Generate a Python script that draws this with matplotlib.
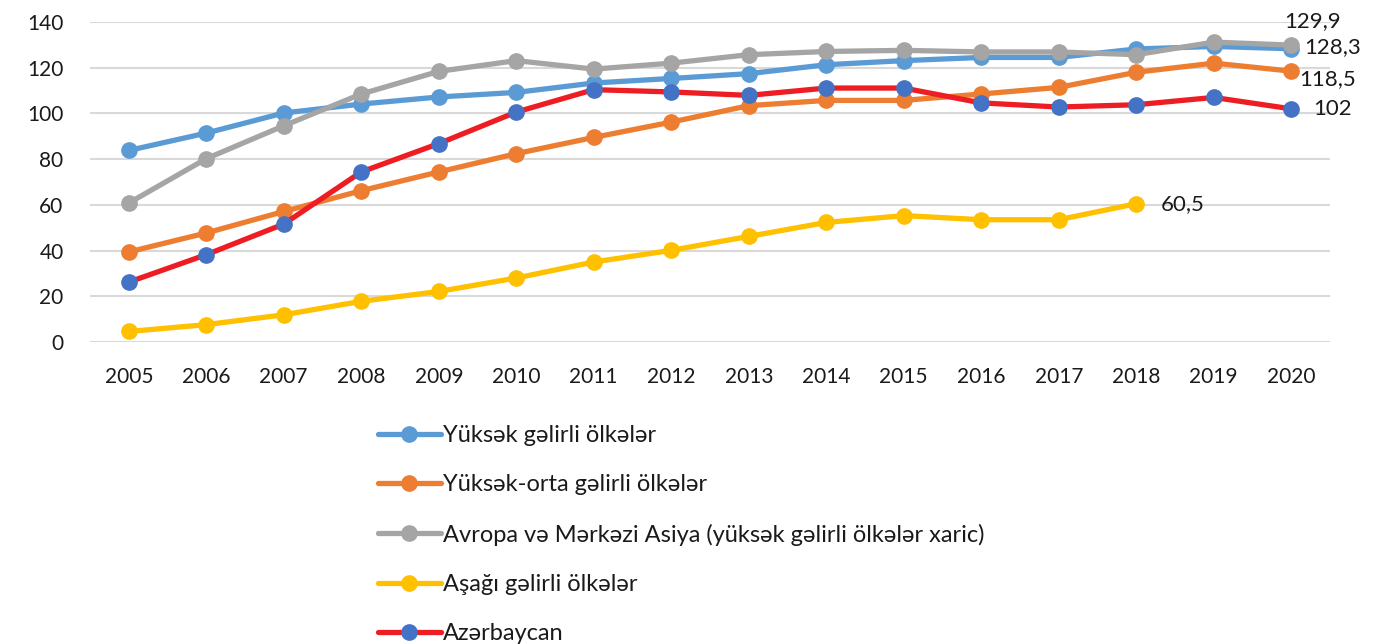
import numpy as np
import matplotlib
matplotlib.use("Agg")
import matplotlib.pyplot as plt

plt.rcParams['font.family'] = ['Lato', 'DejaVu Sans']

years = list(range(2005, 2021))

high_income = [83.8, 91.4, 100.2, 104.1, 107.2, 109.2, 113.3, 115.3,
               117.4, 121.3, 123.1, 124.5, 124.5, 128.2, 129.3, 128.3]
upper_middle = [39.4, 47.7, 57.1, 66.2, 74.4, 82.4, 89.5, 96.2,
                103.4, 105.7, 105.7, 108.5, 111.4, 118.0, 122.0, 118.5]
europe_asia = [60.8, 80.2, 94.6, 108.5, 118.4, 123.1, 119.4, 122.0,
               125.7, 127.1, 127.6, 126.9, 126.9, 125.7, 131.2, 129.9]
low_income = [4.6, 7.6, 11.9, 17.8, 22.1, 28.0, 35.0, 40.1,
              46.2, 52.3, 55.3, 53.5, 53.5, 60.5, np.nan, np.nan]
azerbaijan = [26.2, 38.2, 51.6, 74.4, 86.8, 100.6, 110.4, 109.4,
              107.9, 111.1, 111.1, 104.6, 102.8, 103.8, 107.0, 102.0]

series = [
    ("Yüksək gəlirli ölkələr", high_income, "#5B9BD5", "#5B9BD5"),
    ("Yüksək-orta gəlirli ölkələr", upper_middle, "#ED7D31", "#ED7D31"),
    ("Avropa və Mərkəzi Asiya (yüksək gəlirli ölkələr xaric)", europe_asia, "#A5A5A5", "#A5A5A5"),
    ("Aşağı gəlirli ölkələr", low_income, "#FFC000", "#FFC000"),
    ("Azərbaycan", azerbaijan, "#EE1D23", "#4472C4"),
]

# (series index, year, offset in points, horizontal alignment)
value_labels = [
    (2, 2020, (15, 17), 'center'),
    (0, 2020, (9, 1), 'left'),
    (1, 2020, (6, -6), 'left'),
    (4, 2020, (16, 0), 'left'),
    (3, 2018, (18, 0), 'left'),
]

fig = plt.figure(figsize=(14, 6.44), dpi=100)
ax = fig.add_axes([90 / 1400, 1 - 342 / 644, 1240 / 1400, 320 / 644])

x = np.arange(len(years))
handles = []
for name, values, line_color, marker_color in series:
    h, = ax.plot(x, values, color=line_color, linewidth=3.8, marker='o',
                 markersize=11, markerfacecolor=marker_color,
                 markeredgecolor=marker_color, label=name,
                 solid_capstyle='round', solid_joinstyle='round')
    handles.append(h)

for idx, year, offset, ha in value_labels:
    val = series[idx][1][years.index(year)]
    ax.annotate(f"{val:g}".replace('.', ','), (years.index(year), val),
                xytext=offset, textcoords='offset points', ha=ha, va='center',
                fontsize=16, color='#1a1a1a')

ax.set_xlim(-0.5, len(years) - 0.5)
ax.set_ylim(0, 140)
ax.set_yticks(range(0, 141, 20))
ax.set_xticks(x)
ax.set_xticklabels([str(y) for y in years])
ax.grid(True, axis='y', color='#D9D9D9', linewidth=1.5)
ax.set_axisbelow(True)
for side in ['top', 'right', 'left', 'bottom']:
    ax.spines[side].set_visible(False)
ax.tick_params(axis='y', length=0, pad=19, labelsize=15, labelcolor='#1a1a1a')
ax.tick_params(axis='x', length=0, pad=18, labelsize=15, labelcolor='#1a1a1a')

fig.legend(handles=handles, loc='upper left',
           bbox_to_anchor=(378 / 1400, 1 - 425 / 644),
           frameon=False, fontsize=17, handlelength=2.65, handletextpad=0.12,
           labelspacing=1.2, borderpad=0, borderaxespad=0, labelcolor='#1a1a1a')

fig.savefig("out.png", dpi=100)
